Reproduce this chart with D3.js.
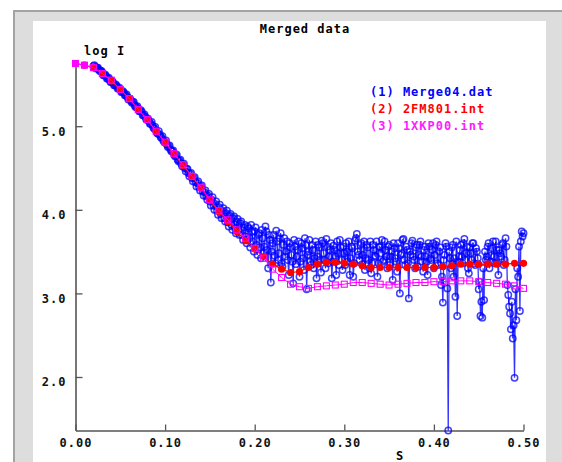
<!DOCTYPE html>
<html>
<head>
<meta charset="utf-8">
<script src="https://cdn.jsdelivr.net/npm/d3@7"></script>
<style>
  body { margin: 0; background: #fff; }
  text { font-family: "DejaVu Sans Mono", monospace; font-weight: bold; font-size: 12px; letter-spacing: 1px; }
</style>
</head>
<body>
<div class="chart"></div>
<script>
// curve grid for the two model curves (s = 0 .. 0.50, step 0.01)
var modelS = [0.00,0.01,0.02,0.03,0.04,0.05,0.06,0.07,0.08,0.09,0.10,0.11,0.12,0.13,0.14,0.15,0.16,0.17,0.18,0.19,
  0.20,0.21,0.22,0.23,0.24,0.25,0.26,0.27,0.28,0.29,0.30,0.31,0.32,0.33,0.34,0.35,0.36,0.37,0.38,0.39,
  0.40,0.41,0.42,0.43,0.44,0.45,0.46,0.47,0.48,0.49,0.50];

// (2) 2FM801.int
var fm801 = [5.75,5.73,5.70,5.63,5.54,5.44,5.33,5.20,5.08,4.94,4.80,4.67,4.53,4.40,4.26,4.11,3.98,3.86,3.74,3.63,
  3.53,3.44,3.35,3.29,3.25,3.26,3.31,3.35,3.37,3.37,3.36,3.35,3.33,3.31,3.31,3.31,3.31,3.31,3.31,3.31,
  3.31,3.32,3.33,3.35,3.35,3.35,3.35,3.35,3.35,3.36,3.36];

// (3) 1XKP00.int
var xkp00 = [5.75,5.73,5.70,5.63,5.55,5.44,5.33,5.20,5.08,4.94,4.81,4.67,4.54,4.40,4.27,4.12,3.99,3.88,3.76,3.66,
  3.54,3.42,3.29,3.19,3.11,3.08,3.06,3.08,3.09,3.10,3.11,3.13,3.13,3.12,3.11,3.10,3.11,3.12,3.13,3.13,
  3.14,3.14,3.15,3.15,3.15,3.14,3.13,3.12,3.11,3.09,3.06];

// (1) Merge04.dat, even points: s = 0.020 .. 0.500, step 0.002
var mergeStart = 0.02, mergeStep = 0.002;
var merge04 = [
  5.72,5.71,5.70,5.68,5.66,5.64,5.61,5.60,5.57,5.56,5.53,5.52,5.49,5.48,5.45,5.44,5.41,5.40,5.37,5.35,
  5.33,5.30,5.29,5.25,5.23,5.21,5.18,5.17,5.13,5.11,5.08,5.06,5.03,5.01,4.97,4.95,4.91,4.90,4.86,4.83,
  4.81,4.78,4.76,4.72,4.70,4.66,4.65,4.60,4.59,4.55,4.54,4.50,4.49,4.44,4.43,4.38,4.38,4.33,4.32,4.27,
  4.28,4.22,4.21,4.16,4.17,4.10,4.12,4.05,4.07,3.99,4.03,3.95,3.99,3.90,3.96,3.85,3.93,3.82,3.90,3.78,
  3.86,3.76,3.84,3.70,3.79,3.68,3.80,3.66,3.82,3.62,3.74,3.58,3.70,3.55,3.76,3.48,3.80,3.52,3.70,3.13,
  3.60,3.45,3.75,3.40,3.66,3.36,3.58,3.44,3.62,3.22,3.55,3.38,3.64,3.35,3.52,3.20,3.60,3.42,3.66,3.05,
  3.50,3.38,3.58,3.30,3.62,3.44,3.55,3.25,3.60,3.40,3.65,3.36,3.52,3.18,3.57,3.44,3.62,3.34,3.55,3.28,
  3.48,3.60,3.38,3.22,3.56,3.20,3.63,3.71,3.46,3.58,3.35,3.62,3.42,3.55,3.30,3.24,3.58,3.45,3.62,3.36,
  3.55,3.64,3.40,3.52,3.30,3.58,3.44,3.16,3.54,3.38,3.60,3.00,3.48,3.65,3.34,3.52,2.94,3.46,3.63,3.40,
  3.55,3.32,3.58,3.44,3.26,3.56,3.38,3.60,3.42,3.52,3.30,3.58,3.36,3.50,3.10,2.89,3.46,3.56,1.36,3.42,
  3.55,3.20,2.96,2.73,3.44,3.58,3.36,3.65,3.48,3.30,3.55,3.40,3.60,3.34,3.50,3.05,2.73,2.71,2.92,3.40,
  3.56,3.30,3.45,3.62,3.36,3.52,3.22,3.48,3.58,3.34,3.66,3.10,2.84,2.57,2.46,1.99,2.68,3.20,2.79,3.74,
  3.72];

// (1) Merge04.dat, odd points: s = 0.021 .. 0.499, step 0.002
var mergeMidStart = 0.021;
var merge04Mid = [
  5.73,5.69,5.70,5.66,5.66,5.61,5.62,5.57,5.58,5.53,
  5.54,5.49,5.50,5.45,5.46,5.41,5.42,5.37,5.38,5.32,
  5.33,5.28,5.29,5.23,5.24,5.18,5.19,5.13,5.14,5.08,
  5.09,5.03,5.05,4.98,4.99,4.92,4.94,4.87,4.88,4.81,
  4.83,4.75,4.77,4.70,4.71,4.64,4.66,4.58,4.60,4.52,
  4.55,4.46,4.49,4.40,4.44,4.34,4.39,4.28,4.34,4.23,
  4.29,4.17,4.23,4.12,4.19,4.05,4.15,4.00,4.10,3.94,
  4.06,3.90,4.02,3.86,3.99,3.80,3.95,3.76,3.92,3.72,
  3.89,3.70,3.86,3.64,3.82,3.60,3.78,3.55,3.74,3.50,
  3.79,3.46,3.72,3.42,3.66,3.56,3.74,3.30,3.64,3.50,
  3.70,3.36,3.62,3.48,3.72,3.32,3.66,3.50,3.40,3.60,
  3.46,3.12,3.56,3.44,3.62,3.38,3.54,3.28,3.58,3.46,
  3.64,3.34,3.52,3.42,3.18,3.58,3.40,3.63,3.48,3.30,
  3.56,3.44,3.60,3.38,3.52,3.22,3.48,3.64,3.40,3.56,
  3.34,3.50,3.62,3.42,3.54,3.36,3.66,3.50,3.40,3.60,
  3.46,3.28,3.58,3.40,3.62,3.36,3.52,3.44,3.20,3.56,
  3.48,3.38,3.62,3.44,3.56,3.34,3.50,3.60,3.42,3.26,
  3.54,3.46,3.64,3.40,3.56,3.36,3.50,3.60,3.44,3.30,
  3.58,3.46,3.62,3.38,3.52,3.44,3.22,3.56,3.40,3.60,
  3.46,3.62,3.34,3.55,3.20,3.40,3.60,3.06,3.50,3.30,
  3.58,3.42,3.62,3.38,3.52,3.44,3.60,3.40,3.56,3.24,
  3.48,3.60,3.36,3.54,3.42,3.14,2.90,3.30,3.50,3.44,
  3.60,3.38,3.54,3.44,3.62,3.36,3.52,3.44,3.60,3.40,
  3.56,2.98,2.76,2.90,2.62,3.05,3.30,3.56,3.62,3.68];

var xTicks = [0.0, 0.1, 0.2, 0.3, 0.4, 0.5];
var yTicks = [2.0, 3.0, 4.0, 5.0];
var legendItems = ["(1) Merge04.dat", "(2) 2FM801.int", "(3) 1XKP00.int"];
var legendColors = ["#0000ff", "#ff0000", "#ff20ff"];

var width = 562, height = 462;

var svg = d3.select("div.chart").append("svg")
  .attr("width", width)
  .attr("height", height);

// window frame
svg.append("rect").attr("x", 14).attr("y", 11).attr("width", 600).attr("height", 500)
  .attr("fill", "#dddddd").attr("stroke", "#a3a3a3").attr("stroke-width", 2);
svg.append("rect").attr("x", 33).attr("y", 21).attr("width", 513).attr("height", 460)
  .attr("fill", "#ffffff");

var x = d3.scaleLinear().domain([0, 0.5]).range([75.5, 523.5]);
var y = d3.scaleLinear().domain([1.36, 5.75]).range([430.5, 63.5]);

// axes
var xAxis = svg.append("g").attr("transform", "translate(0,430.5)")
  .call(d3.axisBottom(x).tickValues(xTicks).tickFormat(d3.format(".2f"))
    .tickSize(-6).tickSizeOuter(0).tickPadding(8));
var yAxis = svg.append("g").attr("transform", "translate(75.5,0)")
  .call(d3.axisLeft(y).tickValues(yTicks).tickFormat(d3.format(".1f"))
    .tickSize(-7).tickSizeOuter(0).tickPadding(9));

[xAxis, yAxis].forEach(function(a) {
  a.select(".domain").attr("stroke", "#555").attr("stroke-width", 1.6);
  a.selectAll(".tick line").attr("stroke", "#555").attr("stroke-width", 1.3);
  a.selectAll(".tick text").attr("fill", "#111")
    .style("font-family", "DejaVu Sans Mono").style("font-size", "12px").style("font-weight", "bold");
});
yAxis.selectAll(".tick text").attr("dy", "0.74em");

// blue data: merge even and odd samples in order of s
var mergeData = merge04.map(function(v, i) { return [mergeStart + i * mergeStep, v]; })
  .concat(merge04Mid.map(function(v, i) { return [mergeMidStart + i * mergeStep, v]; }))
  .sort(function(a, b) { return a[0] - b[0]; });

var line = d3.line().x(function(d) { return x(d[0]); }).y(function(d) { return y(d[1]); });

svg.append("path").datum(mergeData).attr("d", line)
  .attr("fill", "none").attr("stroke", "#0000ff").attr("stroke-opacity", 0.8).attr("stroke-width", 1.3);
svg.append("g").selectAll("circle").data(mergeData).enter().append("circle")
  .attr("cx", function(d) { return x(d[0]); })
  .attr("cy", function(d) { return y(d[1]); })
  .attr("r", 3.2)
  .attr("fill", "none")
  .attr("stroke", "#0000ff").attr("stroke-opacity", 0.75).attr("stroke-width", 1.5);

// red model
var fmData = modelS.map(function(s, i) { return [s, fm801[i]]; });
svg.append("path").datum(fmData).attr("d", line)
  .attr("fill", "none").attr("stroke", "#ff0000").attr("stroke-width", 1.2);
svg.append("g").selectAll("circle").data(fmData).enter().append("circle")
  .attr("cx", function(d) { return x(d[0]); })
  .attr("cy", function(d) { return y(d[1]); })
  .attr("r", 3.6)
  .attr("fill", "#ff0000");

// magenta model
var xkData = modelS.map(function(s, i) { return [s, xkp00[i]]; });
svg.append("path").datum(xkData).attr("d", line)
  .attr("fill", "none").attr("stroke", "#ff00ff").attr("stroke-width", 1);
svg.append("g").selectAll("rect").data(xkData).enter().append("rect")
  .attr("x", function(d) { return x(d[0]) - 3; })
  .attr("y", function(d) { return y(d[1]) - 3; })
  .attr("width", 6).attr("height", 6)
  .attr("fill", function(d, i) { return i < 2 ? "#ff00ff" : "none"; })
  .attr("stroke", "#ff00ff").attr("stroke-width", 1.1);

// texts
svg.append("text").attr("x", 305).attr("y", 33).attr("text-anchor", "middle").text("Merged data");
svg.append("text").attr("x", 84).attr("y", 55).text("log I");
svg.append("text").attr("x", 400).attr("y", 460).attr("text-anchor", "middle").text("S");

svg.append("g").selectAll("text").data(legendItems).enter().append("text")
  .attr("x", 370)
  .attr("y", function(d, i) { return 96 + i * 17; })
  .attr("fill", function(d, i) { return legendColors[i]; })
  .text(function(d) { return d; });
</script>
</body>
</html>
